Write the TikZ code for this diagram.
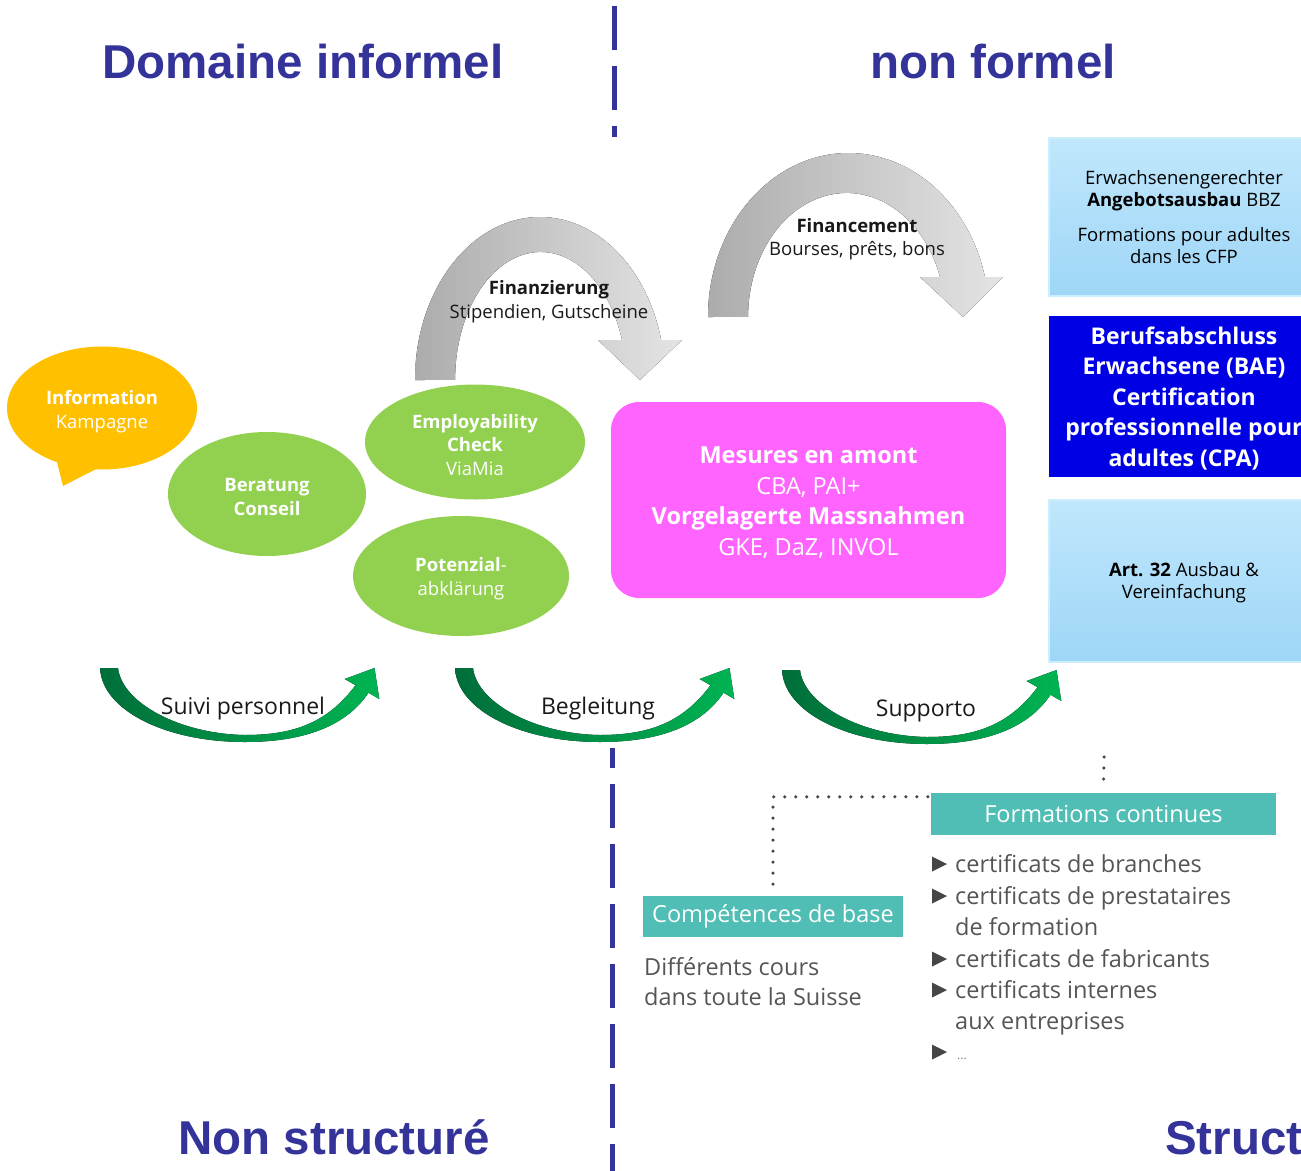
\documentclass[tikz,border=0pt]{standalone}
\usepackage{fontspec}
\setmainfont{Open Sans}
\newfontfamily\titlefont{Liberation Sans}
\usetikzlibrary{shapes.geometric}
\definecolor{tblue}{RGB}{51,51,153}
\definecolor{orng}{RGB}{255,192,0}
\definecolor{lgreen}{RGB}{146,208,80}
\definecolor{magb}{RGB}{255,100,255}
\definecolor{dblue}{RGB}{0,0,228}
\definecolor{lbtop}{RGB}{192,231,252}
\definecolor{lbbot}{RGB}{158,214,247}
\definecolor{lbedge}{RGB}{205,238,252}
\definecolor{tealc}{RGB}{80,190,180}
\definecolor{gdark}{RGB}{172,172,172}
\definecolor{glight}{RGB}{228,228,228}
\definecolor{grdark}{RGB}{0,110,58}
\definecolor{grlight}{RGB}{0,180,82}
\definecolor{txtgrey}{RGB}{85,85,85}
\definecolor{dotgrey}{RGB}{70,70,70}
\newcommand\fs[2]{\fontsize{#1}{#2}\selectfont}
\tikzset{
  titletext/.style={font=\titlefont\bfseries\fs{47.5pt}{57pt}, text=tblue, inner sep=0},
  divider/.style={draw=tblue, line width=5pt, dash pattern=on 44pt off 16pt},
  bubble/.style={ellipse, fill=lgreen, inner sep=0},
  bubbletext/.style={text=white, align=center, inner sep=0, font=\fs{18.5pt}{23.5pt}},
  lbbox/.style={rectangle, top color=lbtop, bottom color=lbbot, draw=lbedge, line width=1.5pt, minimum width=270pt, align=center, inner sep=0, font=\fs{18.5pt}{22pt}},
  tealbox/.style={rectangle, fill=tealc, text=white, font=\fs{23.5pt}{28pt}, inner sep=0},
  dots/.style={draw=dotgrey, line width=3.5pt, dash pattern=on 0pt off 11pt, line cap=round},
  item/.style={anchor=mid west, text=txtgrey, font=\fs{23.5pt}{28pt}, inner sep=0},
  arrowtext/.style={align=center, font=\fs{18.5pt}{23.5pt}, text=black!90, inner sep=0},
  glabel/.style={font=\fs{23pt}{28pt}, text=black!90, inner sep=0},
  garrow/.pic={
    \fill[left color=grdark, right color=grlight] (0,0) -- (18,0)
      .. controls (22,35) and (80,66) .. (145,67)
      .. controls (195,67) and (228,54) .. (255.5,17.25)
      -- (244.7,11) -- (274.5,0) -- (279.3,31) -- (268.5,24.75)
      .. controls (245,60) and (200,74) .. (145,74)
      .. controls (65,74) and (2,42) .. (0,0) -- cycle;
  }
}
\begin{document}
\begin{tikzpicture}[x=1pt,y=-1pt]
\useasboundingbox (0,0) rectangle (1301,1170);
\clip (0,0) rectangle (1301,1170);

% titles
\node[titletext, anchor=base] (t1) at (303,78) {Domaine informel};
\node[titletext, anchor=base] (t2) at (993,78) {non formel};
\node[titletext, anchor=base] (t3) at (334,1154) {Non structuré};
\node[titletext, anchor=base west] (t4) at (1165,1154) {Structuré};

% dashed divider
\coordinate (d1) at (614,6);
\coordinate (d2) at (614,137);
\draw[divider] (d1) -- (d2);
\coordinate (d3) at (612,748);
\coordinate (d4) at (612,1172);
\draw[divider, dash phase=24pt] (d3) -- (d4);

% grey arrows
\fill[left color=gdark, right color=glight] (415,380)
  arc[start angle=180, end angle=345.8, x radius=125, y radius=163]
  -- (682,340) -- (640,380) -- (598,340) -- (622,340)
  arc[start angle=341.8, end angle=180, x radius=85.6, y radius=128] -- cycle;
\fill[left color=gdark, right color=glight] (708,317)
  arc[start angle=180, end angle=345.9, x radius=140.6, y radius=164]
  -- (1003,277) -- (963,317) -- (920,277) -- (940,277)
  arc[start angle=341.2, end angle=180, x radius=98.6, y radius=124] -- cycle;
\node[arrowtext] (fin1) at (549,301.5) {\textbf{Finanzierung}\\Stipendien, Gutscheine};
\node[arrowtext] (fin2) at (857,239) {\textbf{Financement}\\Bourses, prêts, bons};

% speech bubble and ellipses
\fill[orng] (54,450) -- (63,486) -- (102,466) -- cycle;
\node[bubble, fill=orng, minimum width=190pt, minimum height=123pt] (info) at (102,408) {};
\node[bubbletext] (infot) at (102,411.5) {\textbf{Information}\\Kampagne};
\node[bubble, minimum width=198pt, minimum height=124pt] (ber) at (267,494) {};
\node[bubbletext] (bert) at (267,497) {\textbf{Beratung}\\\textbf{Conseil}};
\node[bubble, minimum width=220pt, minimum height=115pt] (emp) at (475,442) {};
\node[bubbletext] (empt) at (475,445) {\textbf{Employability}\\\textbf{Check}\\ViaMia};
\node[bubble, minimum width=216pt, minimum height=120pt] (pot) at (461,576) {};
\node[bubbletext] (pott) at (461,578.5) {\textbf{Potenzial}-\\abklärung};

% magenta box
\node[rectangle, rounded corners=28pt, fill=magb, minimum width=395pt, minimum height=196pt, inner sep=0] (mes) at (808.5,500) {};
\node[align=center, text=white, inner sep=0, font=\fs{23.5pt}{30.5pt}] (mest) at (808.5,502.5)
  {\textbf{Mesures en amont}\\CBA, PAI+\\\textbf{Vorgelagerte Massnahmen}\\GKE, DaZ, INVOL};

% right boxes
\node[lbbox, minimum height=158pt] (bbz) at (1184,217)
  {Erwachsenengerechter\\\textbf{Angebotsausbau} BBZ\\[13pt]Formations pour adultes\\dans les CFP};
\node[rectangle, fill=dblue, minimum width=270pt, minimum height=161pt, inner sep=0] (bae) at (1184,396.5) {};
\node[align=center, text=white, inner sep=0, font=\bfseries\fs{23pt}{30.5pt}] (baet) at (1184,398.5)
  {Berufsabschluss\\Erwachsene (BAE)\\Certification\\professionnelle pour\\adultes (CPA)};
\node[lbbox, minimum height=162pt] (art) at (1184,581) {};
\node[align=center, inner sep=0, font=\fs{18.5pt}{22pt}] (artt) at (1184,583) {\textbf{Art. 32} Ausbau \&\\Vereinfachung};

% green arrows
\pic at (100,668) {garrow};
\pic at (455,668) {garrow};
\pic at (782,670) {garrow};
\node[glabel] (l1) at (243,709) {Suivi personnel};
\node[glabel] (l2) at (598,709) {Begleitung};
\node[glabel] (l3) at (926,711) {Supporto};

% bottom section
\node[tealbox, minimum width=345pt, minimum height=42pt] (fc) at (1103.5,814) {Formations continues};
\node[tealbox, minimum width=260pt, minimum height=41pt] (cb) at (773,916.5) {Compétences de base};
\coordinate (fctop) at (1104,757);
\draw[dots] (fctop) -- ([yshift=6pt]fc.north);
\draw[dots] ([xshift=-3pt,yshift=-4pt]fc.north west) -| ([yshift=5pt]cb.north);

\node[item] (dc1) at (644,973) {Différents cours};
\node[item] (dc2) at (644,1003) {dans toute la Suisse};

\foreach \yy in {864,896,959,990,1052}
  \fill[dotgrey] (932,\yy-7.5) -- (947,\yy) -- (932,\yy+7.5) -- cycle;
\node[item] (i1) at (955,870) {certificats de branches};
\node[item] (i2) at (955,902) {certificats de prestataires};
\node[item] (i2b) at (955,933) {de formation};
\node[item] (i3) at (955,965) {certificats de fabricants};
\node[item] (i4) at (955,996) {certificats internes};
\node[item] (i4b) at (955,1027) {aux entreprises};
\node[item, font=\fs{12pt}{14pt}, text=gray] (i5) at (957,1057) {...};
\end{tikzpicture}
\end{document}
